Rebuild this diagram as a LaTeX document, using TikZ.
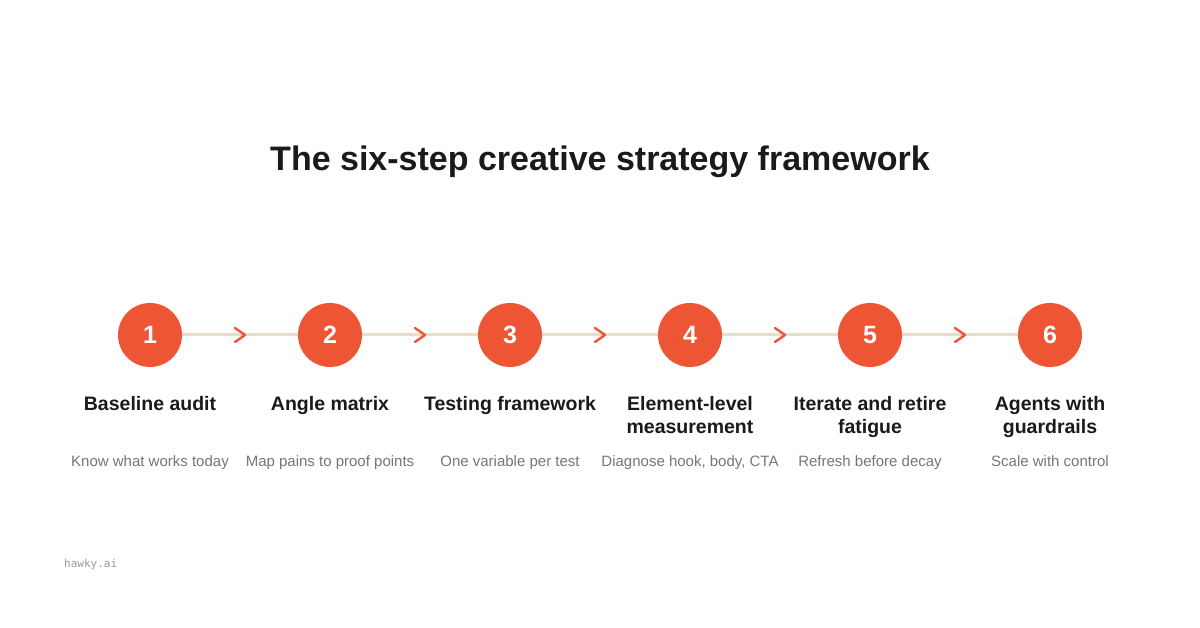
\documentclass[tikz,border=0pt]{standalone}
\usepackage{fontspec}
\setmainfont{Liberation Sans}
\setmonofont{DejaVu Sans Mono}
\definecolor{stepred}{HTML}{EE5535}
\definecolor{linebeige}{HTML}{E8DCCB}
\definecolor{inkblack}{HTML}{1A1A1A}
\definecolor{subgray}{HTML}{777777}
\definecolor{markgray}{HTML}{9A9A9A}
\tikzset{
    stepdot/.style={circle,fill=stepred,minimum size=64pt,inner sep=0pt,text=white,font=\fontsize{25}{25}\selectfont\bfseries},
    track/.style={draw=linebeige,line width=3pt},
    chev/.style={draw=stepred,line width=2.4pt,line cap=round,line join=round},
    steptitle/.style={anchor=north,align=center,inner sep=0pt,text=inkblack,font=\fontsize{19.5}{23}\selectfont\bfseries},
    stepnote/.style={anchor=base,inner sep=0pt,text=subgray,font=\fontsize{15}{17}\selectfont}
}
\begin{document}
\begin{tikzpicture}[x=1pt,y=-1pt]
        %% Canvas
        \fill[white] (0,0) rectangle (1200,628);
        \useasboundingbox (0,0) rectangle (1200,628);
        %% Title
        \node[anchor=base,inner sep=0pt,text=inkblack,font=\fontsize{34}{34}\selectfont\bfseries] (title) at (600,171) {The six-step creative strategy framework};
        %% Steps
        \node[stepdot] (s1) at (150,335) {1};
        \node[stepdot] (s2) at (330,335) {2};
        \node[stepdot] (s3) at (510,335) {3};
        \node[stepdot] (s4) at (690,335) {4};
        \node[stepdot] (s5) at (870,335) {5};
        \node[stepdot] (s6) at (1050,335) {6};
        %% Tracks
        \foreach \a/\b in {s1/s2,s2/s3,s3/s4,s4/s5,s5/s6} {
            \draw[track] (\a) -- (\b) coordinate[pos=0.5] (m\a);
            \draw[chev] (m\a) ++(-5,-7) -- ++(10,7) -- ++(-10,7);
        }
        %% Labels
        \node[steptitle] (t1) at (150,396) {Baseline audit};
        \node[steptitle] (t2) at (330,396) {Angle matrix};
        \node[steptitle] (t3) at (510,396) {Testing framework};
        \node[steptitle] (t4) at (690,396) {Element-level\\measurement};
        \node[steptitle] (t5) at (870,396) {Iterate and retire\\fatigue};
        \node[steptitle] (t6) at (1050,396) {Agents with\\guardrails};
        %% Notes
        \node[stepnote] (n1) at (150,466) {Know what works today};
        \node[stepnote] (n2) at (330,466) {Map pains to proof points};
        \node[stepnote] (n3) at (510,466) {One variable per test};
        \node[stepnote] (n4) at (690,466) {Diagnose hook, body, CTA};
        \node[stepnote] (n5) at (870,466) {Refresh before decay};
        \node[stepnote] (n6) at (1050,466) {Scale with control};
        %% Mark
        \node[anchor=base west,inner sep=0pt,text=markgray,font=\ttfamily\fontsize{11}{11}\selectfont] (mark) at (64,567) {hawky.ai};
    \end{tikzpicture}
\end{document}
